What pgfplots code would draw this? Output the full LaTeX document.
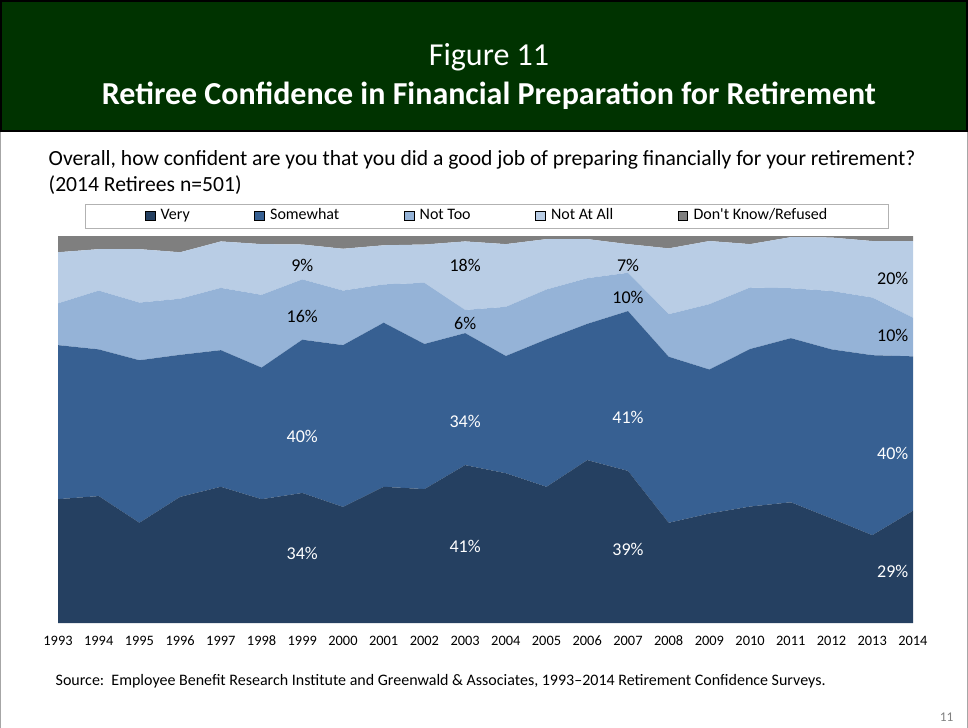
\documentclass[border=0pt]{standalone}
\usepackage{fontspec}
\setmainfont{Carlito}
\usepackage{pgfplots}
\pgfplotsset{compat=1.18}
\usepackage{pgfplotstable}

\definecolor{hdrgreen}{RGB}{0,51,0}
\definecolor{very}{RGB}{37,64,97}
\definecolor{somewhat}{RGB}{55,96,146}
\definecolor{nottoo}{RGB}{149,179,215}
\definecolor{notatall}{RGB}{185,205,229}
\definecolor{dkref}{RGB}{127,127,127}

\tikzset{lbl/.style={font=\fontsize{13.5}{16}\selectfont}}

% shares (percent)
\pgfplotstableread{
year very some nottoo notall dk
1993 32.0 39.8 10.8 13.2 4.2
1994 32.8 37.9 15.2 10.7 3.4
1995 25.9 42.0 14.9 13.8 3.4
1996 32.6 36.7 14.5 12.0 4.2
1997 35.2 35.3 16.1 12.0 1.4
1998 32.0 34.0 18.8 13.1 2.1
1999 33.6 39.6 15.6 9.0 2.2
2000 30.0 41.8 14.1 10.8 3.3
2001 35.2 42.4 9.9 10.1 2.4
2002 34.6 37.5 15.8 9.9 2.2
2003 40.8 34.1 6.0 17.7 1.4
2004 38.7 30.3 12.7 16.2 2.1
2005 35.2 38.1 12.9 13.0 0.8
2006 42.1 35.2 11.8 10.1 0.8
2007 39.3 41.3 9.9 7.4 2.1
2008 25.9 42.9 11.0 17.0 3.2
2009 28.3 37.2 16.9 16.3 1.3
2010 30.1 40.7 15.9 11.2 2.1
2011 31.2 42.4 12.9 13.2 0.3
2012 27.0 43.7 15.1 13.8 0.4
2013 22.7 46.5 14.9 14.6 1.3
2014 29.0 39.9 10.0 19.8 1.3
}\retdata

\begin{document}
\begin{tikzpicture}
\begin{scope}[x=0.75pt,y=-0.75pt]
\useasboundingbox (0,0) rectangle (968,728);
\draw[gray!70, line width=0.75pt] (0.5,0) -- (0.5,728);
\draw[gray!70, line width=0.75pt] (967.5,0) -- (967.5,728);
% header
\fill[hdrgreen] (0,0) rectangle (968,131);
\draw[black, line width=2pt] (1,1) rectangle (967,131);
\node[text=white, font=\fontsize{24}{28}\selectfont] at (489,57) {Figure 11};
\node[text=white, font=\fontsize{24}{28}\selectfont\bfseries] at (489,96) {Retiree Confidence in Financial Preparation for Retirement};
% question
\node[anchor=west, font=\fontsize{16.2}{19}\selectfont] at (44,160) {Overall, how confident are you that you did a good job of preparing financially for your retirement?};
\node[anchor=west, font=\fontsize{16.2}{19}\selectfont] at (44,185) {(2014 Retirees n=501)};
% legend frame
\draw[gray!60, line width=0.6pt] (85,204) rectangle (888,228);
% source
\node[anchor=west, font=\fontsize{12}{14}\selectfont] at (51,681) {Source:\ \ Employee Benefit Research Institute and Greenwald \& Associates, 1993--2014 Retirement Confidence Surveys.};
\node[anchor=east, text=gray, font=\fontsize{10}{12}\selectfont] at (958,717) {11};
\end{scope}

\begin{axis}[
    at={(43.5pt,-467.25pt)}, anchor=south west,
    scale only axis,
    width=641.25pt, height=290.25pt,
    xmin=1993, xmax=2014, ymin=0, ymax=100,
    stack plots=y,
    axis line style={draw=none},
    ymajorticks=false,
    xtick={1993,...,2014},
    major tick length=0pt,
    /pgf/number format/assume math mode=true,
    /pgf/number format/1000 sep={},
    xticklabel style={font=\fontsize{10.8}{12}\selectfont, text height=7.5pt, text depth=0pt, yshift=-6pt},
    legend columns=5,
    legend style={at={(0.5,1)}, anchor=south, yshift=6pt, xshift=1.5pt, draw=none, fill=none,
        font=\fontsize{12}{14}\selectfont,
        nodes={text height=8.5pt, text depth=2pt},
        /tikz/every odd column/.append style={column sep=2.2pt},
        /tikz/every even column/.append style={column sep=46.5pt}},
    area legend,
    legend image post style={xscale=0.42, yscale=1.2, draw=none},
    legend entries={Very,Somewhat,Not Too,Not At All,Don\textquotesingle t Know/Refused},
]
\addplot[fill=very, draw=none] table[x=year,y=very]{\retdata} \closedcycle;
\addplot[fill=somewhat, draw=none] table[x=year,y=some]{\retdata} \closedcycle;
\addplot[fill=nottoo, draw=none] table[x=year,y=nottoo]{\retdata} \closedcycle;
\addplot[fill=notatall, draw=none] table[x=year,y=notall]{\retdata} \closedcycle;
\addplot[fill=dkref, draw=none] table[x=year,y=dk]{\retdata} \closedcycle;

\coordinate (a1) at (axis cs:1999,18.1);
\coordinate (a2) at (axis cs:1999,48.3);
\coordinate (a3) at (axis cs:1999,79.1);
\coordinate (a4) at (axis cs:1999,92.5);
\coordinate (b1) at (axis cs:2003,19.9);
\coordinate (b2) at (axis cs:2003,52.2);
\coordinate (b3) at (axis cs:2003,77.3);
\coordinate (b4) at (axis cs:2003,92.5);
\coordinate (c1) at (axis cs:2007,18.9);
\coordinate (c2) at (axis cs:2007,53.0);
\coordinate (c3) at (axis cs:2007,84.2);
\coordinate (c4) at (axis cs:2007,92.5);
\coordinate (d1) at (axis cs:2014,13.2);
\coordinate (d2) at (axis cs:2014,43.7);
\coordinate (d3) at (axis cs:2014,74.4);
\coordinate (d4) at (axis cs:2014,89.1);
\end{axis}

\node[lbl, text=white] at (a1) {34\%};
\node[lbl, text=white] at (a2) {40\%};
\node[lbl] at (a3) {16\%};
\node[lbl] at (a4) {9\%};
\node[lbl, text=white] at (b1) {41\%};
\node[lbl, text=white] at (b2) {34\%};
\node[lbl] at (b3) {6\%};
\node[lbl] at (b4) {18\%};
\node[lbl, text=white] at (c1) {39\%};
\node[lbl, text=white] at (c2) {41\%};
\node[lbl] at (c3) {10\%};
\node[lbl] at (c4) {7\%};
\node[lbl, text=white, anchor=east] at (d1) {29\%};
\node[lbl, text=white, anchor=east] at (d2) {40\%};
\node[lbl, anchor=east] at (d3) {10\%};
\node[lbl, anchor=east] at (d4) {20\%};
\end{tikzpicture}
\end{document}
